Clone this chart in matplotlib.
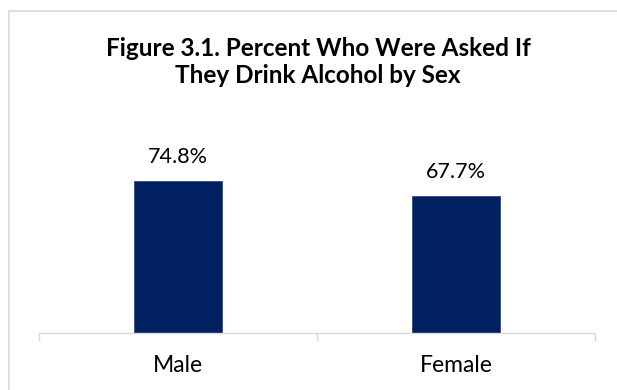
import matplotlib.pyplot as plt
from matplotlib.patches import Rectangle

categories = ['Male', 'Female']
percent_asked = [74.8, 67.7]
title = 'Figure 3.1. Percent Who Were Asked If\nThey Drink Alcohol by Sex'

plt.rcParams['font.family'] = ['Lato', 'DejaVu Sans']

fig = plt.figure(figsize=(6.17, 3.90), dpi=100)

# chart area frame (runs off the right and bottom edges)
fig.patches.append(Rectangle((9 / 617, -0.05), 1.0, 1.05 - 11 / 390,
                             transform=fig.transFigure, fill=False,
                             edgecolor='#d9d9d9', linewidth=1.2))

ax = fig.add_axes([39 / 617, 57 / 390, 556 / 617, 203 / 390])

x = range(len(categories))
bars = ax.bar(x, percent_asked, width=0.313, color='#002060',
              edgecolor='#2e4a7e', linewidth=0.6)

for xi, v in zip(x, percent_asked):
    ax.annotate(f'{v:.1f}%', (xi, v), xytext=(0, 13), textcoords='offset points',
                ha='center', va='baseline', fontsize=15.5, color='#000000')

ax.set_xlim(-0.5, 1.5)
ax.set_ylim(0, 100)

# category boundaries as tick marks, names centred between them
ax.set_xticks([-0.5, 0.5, 1.5])
ax.set_xticklabels([])
ax.tick_params(axis='x', which='major', direction='out', length=6,
               width=1, color='#d9d9d9')
ax.set_xticks(list(x), minor=True)
ax.set_xticklabels(categories, minor=True)
ax.tick_params(axis='x', which='minor', length=0, pad=16, labelsize=16.5)

ax.set_yticks([])
for side in ['top', 'right', 'left']:
    ax.spines[side].set_visible(False)
ax.spines['bottom'].set_color('#d9d9d9')
ax.spines['bottom'].set_linewidth(1)

fig.text(318 / 617, 1 - 62 / 390, title, ha='center', va='center',
         fontsize=17.5, fontweight='bold', linespacing=1.25)

fig.savefig('out.png', dpi=100)
